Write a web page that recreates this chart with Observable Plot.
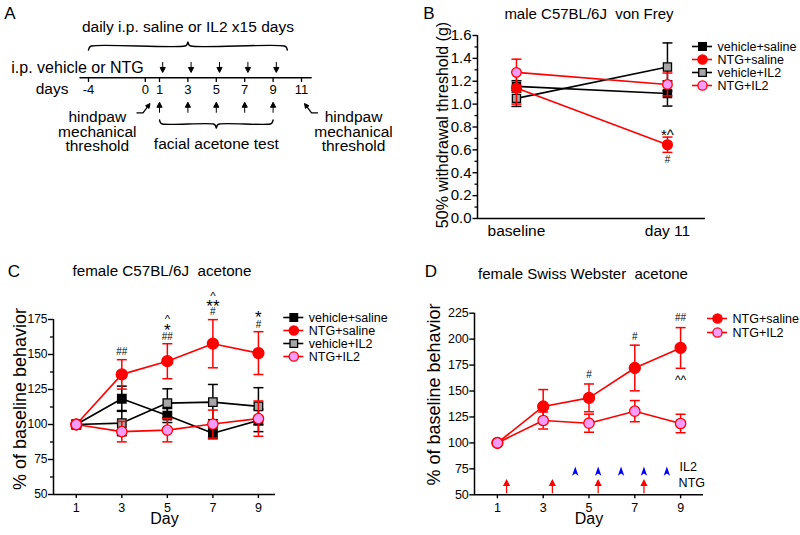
<!DOCTYPE html>
<html>
<head>
<meta charset="utf-8">
<script src="https://cdn.jsdelivr.net/npm/d3@7"></script>
<script src="https://cdn.jsdelivr.net/npm/@observablehq/plot@0.6"></script>
<style>
  html, body { margin: 0; padding: 0; background: #fff; }
  #fig { position: relative; width: 800px; height: 535px; overflow: hidden; background: #fff;
         font-family: "Liberation Sans", Arial, Helvetica, sans-serif; color: #000; }
  #fig svg { position: absolute; }
  .t { position: absolute; white-space: pre; line-height: 1; transform: translate(-50%, -50%); }
</style>
</head>
<body>
<div id="fig"></div>
<script>
// ---------------- DATA ----------------
// Panel A : protocol schematic
const aTitleText = "daily i.p. saline or IL2 x15 days";
const aInjectionLabel = "i.p. vehicle or NTG";
const aDaysLabel = "days";
const aTickDays = [-4, 0, 1, 3, 5, 7, 9, 11];
const aInjectionDays = [1, 3, 5, 7, 9];
const aAcetoneDays = [1, 3, 5, 7, 9];
const aThresholdDays = [0, 11];
const aIL2Span = [-4, 10];
const aAcetoneSpan = [1, 9];
const aAcetoneLabel = "facial acetone test";
const aThresholdLines = ["hindpaw", "mechanical", "threshold"];

// Panel B : male C57BL/6J von Frey
const bTitle = "male C57BL/6J  von Frey";
const bTimepoints = ["baseline", "day 11"];
const bSeries = ["vehicle+saline", "NTG+saline", "vehicle+IL2", "NTG+IL2"];
const bVehSal = [1.155, 1.093], bVehSalErr = [0.05, 0.11];
const bNtgSal = [1.14, 0.645], bNtgSalErr = [0.14, 0.067];
const bVehIl2 = [1.05, 1.325], bVehIl2Err = [0.07, 0.21];
const bNtgIl2 = [1.278, 1.172], bNtgIl2Err = [0.115, 0.1];
const bYTicks = [0, 0.2, 0.4, 0.6, 0.8, 1.0, 1.2, 1.4, 1.6];
const bYMinor = [0.1, 0.3, 0.5, 0.7, 0.9, 1.1, 1.3, 1.5];
const bNoteX = [1, 1], bNoteY = [0.76, 0.51], bNoteText = ["*^", "#"];

// Panel C : female C57BL/6J acetone
const cTitle = "female C57BL/6J  acetone";
const cDays = [1, 3, 5, 7, 9];
const cVehSal = [100, 118.4, 106.4, 93.8, 102.9], cVehSalErr = [0, 9, 5, 4, 8];
const cNtgSal = [100, 135.8, 145.2, 157.7, 151], cNtgSalErr = [0, 10.5, 12.5, 17.2, 15.3];
const cVehIl2 = [100, 101, 115.3, 116, 113], cVehIl2Err = [0, 9, 10.2, 12.6, 13.3];
const cNtgIl2 = [100, 94.9, 96, 100.3, 104.2], cNtgIl2Err = [0, 7.3, 8.4, 10, 12.6];
const cYTicks = [50, 75, 100, 125, 150, 175];
const cYMinor = [62.5, 87.5, 112.5, 137.5, 162.5];
const cNoteX = [3, 5, 5, 5, 7, 7, 7, 9, 9];
const cNoteY = [151.6, 162.9, 170.5, 177, 180.5, 187, 193.4, 171.5, 179.5];
const cNoteText = ["##", "##", "*", "^", "#", "**", "^", "#", "*"];

// Panel D : female Swiss Webster acetone
const dTitle = "female Swiss Webster  acetone";
const dSeries = ["NTG+saline", "NTG+IL2"];
const dDays = [1, 3, 5, 7, 9];
const dNtgSal = [100, 135.1, 143.4, 172.2, 191.5], dNtgSalErr = [0, 16.3, 13.4, 22, 19.6];
const dNtgIl2 = [100, 121.6, 119, 130.6, 118.7], dNtgIl2Err = [0, 8.2, 8.7, 10.2, 8.9];
const dYTicks = [50, 75, 100, 125, 150, 175, 200, 225];
const dIL2Days = [4.4, 5.4, 6.4, 7.4, 8.4];
const dNTGDays = [1.4, 3.4, 5.4, 7.4];
const dNoteX = [5, 7, 9, 9], dNoteY = [166, 202.5, 220.6, 162.7], dNoteText = ["#", "#", "##", "^^"];

const yLabelBehavior = "% of baseline behavior";
const yLabelThreshold = "50% withdrawal threshold (g)";
const xLabelDay = "Day";

// ---------------- STYLE ----------------
const FONT = '"Liberation Sans", Arial, Helvetica, sans-serif';
const RED = "#ff0000", PINK = "#ff9cff", GRAY = "#a6a6a6", BLUE = "#0000ff";
const baseStyle = {background: "transparent", overflow: "visible", fontFamily: FONT, color: "black", fontSize: "12px"};
const styleOf = {
  "vehicle+saline": {stroke: "black", fill: "black", symbol: "square"},
  "NTG+saline": {stroke: RED, fill: RED, symbol: "circle"},
  "vehicle+IL2": {stroke: "black", fill: GRAY, symbol: "square"},
  "NTG+IL2": {stroke: RED, fill: PINK, symbol: "circle"}
};

// custom glyphs
const capSym = {draw(c) { c.moveTo(-5, 0); c.lineTo(5, 0); }};
function vArrow(len, head, halfW, up) {
  const s = up ? 1 : -1;
  return {draw(c) {
    const tip = -s * len / 2, base = tip + s * head;
    c.moveTo(0, s * len / 2); c.lineTo(0, base);
    c.moveTo(0, tip); c.lineTo(-halfW, base); c.lineTo(halfW, base); c.closePath();
  }};
}
const blueHead = {draw(c) { c.moveTo(0, -4.8); c.lineTo(3.2, 4.5); c.lineTo(0, 2.3); c.lineTo(-3.2, 4.5); c.closePath(); }};
function bentStem(m) { return {draw(c) { c.moveTo(-6.5 * m, 4.3); c.lineTo(0, 4.3); c.lineTo(4.3 * m, -1.4); }}; }
function bentHead(m) { return {draw(c) { c.moveTo(7 * m, -5); c.lineTo(6.06 * m, -0.08); c.lineTo(2.54 * m, -2.72); c.closePath(); }}; }

const fig = document.getElementById("fig");
function place(node, left, top) { node.style.left = left + "px"; node.style.top = top + "px"; fig.appendChild(node); }
function label(text, cx, cy, size) {
  const d = document.createElement("div");
  d.className = "t"; d.textContent = text; d.style.fontSize = size + "px";
  d.style.left = cx + "px"; d.style.top = cy + "px"; fig.appendChild(d);
}
const rowsOf = (xs, ys, es) => xs.map((x, i) => ({x, y: ys[i], e: es[i]}));

function seriesMarks(rows, name, rCircle, rSquare) {
  const st = styleOf[name];
  const withErr = rows.filter(d => d.e > 0);
  return [
    Plot.ruleX(withErr, {x: "x", y1: d => d.y - d.e, y2: d => d.y + d.e, stroke: st.stroke, strokeWidth: 1.5}),
    Plot.dot(withErr, {x: "x", y: d => d.y + d.e, symbol: capSym, fill: "none", stroke: st.stroke, strokeWidth: 1.5}),
    Plot.dot(withErr, {x: "x", y: d => d.y - d.e, symbol: capSym, fill: "none", stroke: st.stroke, strokeWidth: 1.5}),
    Plot.line(rows, {x: "x", y: "y", stroke: st.stroke, strokeWidth: 1.6}),
    Plot.dot(rows, {x: "x", y: "y", symbol: st.symbol, r: st.symbol === "square" ? rSquare : rCircle,
                    fill: st.fill, stroke: st.stroke, strokeWidth: 1.3})
  ];
}
function noteMarks(xs, ys, ts) {
  return ts.map((t, i) => {
    const stars = t.includes("*"), carets = t.includes("^");
    const size = stars ? (carets ? 15 : 17) : carets ? (t.length > 1 ? 12 : 11.5) : 10;
    const dy = stars ? 0.25 * size : carets ? 0.21 * size : 0;
    return Plot.text([t], {x: () => xs[i], y: () => ys[i], text: d => d, fontSize: size, dy});
  });
}
function legendPlot(names, {width, height, xRange, yRange, rC, rS}) {
  return Plot.plot({
    width, height, margin: 0, style: baseStyle,
    x: {domain: [0, 1], range: xRange, axis: null},
    y: {type: "point", domain: names, range: yRange, padding: 0, axis: null},
    marks: names.flatMap(n => {
      const st = styleOf[n];
      return [
        Plot.ruleY([n], {y: d => d, x1: () => 0, x2: () => 1, stroke: st.stroke, strokeWidth: 1.6}),
        Plot.dot([n], {x: () => 0.5, y: d => d, symbol: st.symbol, r: st.symbol === "square" ? rS : rC,
                       fill: st.fill, stroke: st.stroke, strokeWidth: 1.3}),
        Plot.text([n], {x: () => 1, y: d => d, text: d => d, dx: 5, textAnchor: "start", fontSize: 12.5})
      ];
    })
  });
}

// ---------------- PANEL A ----------------
const A_PX_PER_DAY = 14.2, A_DAY1_PX = 159;
function bracePoints([x0, x1], y, dir) {
  const k = 1 / A_PX_PER_DAY, xc = (x0 + x1) / 2;
  return [
    [x0, y - 4 * dir], [x0 + 1 * k, y - 1.3 * dir], [x0 + 3 * k, y],
    [xc - 3 * k, y], [xc - 1 * k, y + 1.3 * dir], [xc, y + 4 * dir],
    [xc + 1 * k, y + 1.3 * dir], [xc + 3 * k, y],
    [x1 - 3 * k, y], [x1 - 1 * k, y - 1.3 * dir], [x1, y - 4 * dir]
  ].map(([x, yy]) => ({x, y: yy}));
}
const mid = ([a, b]) => (a + b) / 2;
const aPlot = Plot.plot({
  width: 400, height: 180, margin: 0, style: baseStyle,
  x: {domain: [1 - A_DAY1_PX / A_PX_PER_DAY, 1 + (400 - A_DAY1_PX) / A_PX_PER_DAY], axis: null},
  y: {domain: [180, 0], axis: null},
  marks: [
    Plot.text([aTitleText], {x: () => mid(aIL2Span), y: () => 27, text: d => d, fontSize: 15.5}),
    Plot.line(bracePoints(aIL2Span, 45.5, -1), {x: "x", y: "y", curve: "catmull-rom", stroke: "black", strokeWidth: 1.4}),
    Plot.text([aInjectionLabel], {x: () => aThresholdDays[0], dx: -1.5, y: () => 67, text: d => d, textAnchor: "end", fontSize: 16}),
    Plot.dot(aInjectionDays, {x: d => d, y: () => 66.7, dx: 3.2, symbol: vArrow(10.5, 5, 2.6, false), fill: "black", stroke: "black", strokeWidth: 1}),
    Plot.ruleY([77.3], {x1: () => aTickDays[0] - 0.6, x2: () => aTickDays[aTickDays.length - 1] + 0.75, stroke: "black", strokeWidth: 1.4}),
    Plot.ruleX(aTickDays, {x: d => d, y1: () => 77.3, y2: () => 82, stroke: "black", strokeWidth: 1.3}),
    Plot.text(aTickDays, {x: d => d, y: () => 89.3, text: d => String(d), fontSize: 13}),
    Plot.text([aDaysLabel], {x: () => aTickDays[0], dx: -20, y: () => 89, text: d => d, textAnchor: "end", fontSize: 15.5}),
    Plot.dot(aAcetoneDays, {x: d => d, y: () => 107, symbol: vArrow(10.5, 5, 2.6, true), fill: "black", stroke: "black", strokeWidth: 1}),
    Plot.line(bracePoints(aAcetoneSpan, 123.5, 1), {x: "x", y: "y", curve: "catmull-rom", stroke: "black", strokeWidth: 1.4}),
    Plot.text([aAcetoneLabel], {x: () => mid(aAcetoneSpan), y: () => 144, text: d => d, fontSize: 15.5}),
    Plot.text(aThresholdLines, {x: () => aThresholdDays[0], dx: -48, y: (d, i) => 117 + i * 14.5, text: d => d, fontSize: 15.5}),
    Plot.text(aThresholdLines, {x: () => aThresholdDays[1], dx: 52, y: (d, i) => 117 + i * 14.5, text: d => d, fontSize: 15.5}),
    Plot.dot([aThresholdDays[0]], {x: d => d, y: () => 108, dx: -2.3, symbol: bentStem(1), fill: "none", stroke: "black", strokeWidth: 1.3}),
    Plot.dot([aThresholdDays[0]], {x: d => d, y: () => 108, dx: -2.3, symbol: bentHead(1), fill: "black", stroke: "black", strokeWidth: 1}),
    Plot.dot([aThresholdDays[1]], {x: d => d, y: () => 108, dx: 10, symbol: bentStem(-1), fill: "none", stroke: "black", strokeWidth: 1.3}),
    Plot.dot([aThresholdDays[1]], {x: d => d, y: () => 108, dx: 10, symbol: bentHead(-1), fill: "black", stroke: "black", strokeWidth: 1})
  ]
});
place(aPlot, 0, 0);

// ---------------- PANEL B ----------------
const bX = bTimepoints.map((_, i) => i);
const bXDomain = [-0.258, 1.252];
const bPlot = Plot.plot({
  width: 310, height: 250, marginLeft: 77, marginRight: 5, marginTop: 35, marginBottom: 32, style: baseStyle,
  x: {domain: bXDomain}, y: {domain: [0, 1.6]},
  marks: [
    Plot.axisY({ticks: bYTicks, tickFormat: d3.format(".1f"), tickSize: 4.5, tickPadding: 1.5, fontSize: 15, label: null, strokeWidth: 1.4}),
    Plot.axisY({ticks: bYMinor, tickSize: 2.5, fill: "none", label: null, strokeWidth: 1.3}),
    Plot.axisX({ticks: bX, tickFormat: i => bTimepoints[i], tickSize: 0, tickPadding: 6.5, fontSize: 15.5, label: null}),
    Plot.ruleX([bXDomain[0]], {stroke: "black", strokeWidth: 1.5}),
    Plot.ruleY([0], {stroke: "black", strokeWidth: 1.5}),
    Plot.text([yLabelThreshold], {frameAnchor: "left", textAnchor: "middle", dx: -35, dy: -2, rotate: -90, text: d => d, fontSize: 16}),
    ...seriesMarks(rowsOf(bX, bVehSal, bVehSalErr), "vehicle+saline", 4.8, 4.6),
    ...seriesMarks(rowsOf(bX, bVehIl2, bVehIl2Err), "vehicle+IL2", 4.8, 4.6),
    ...seriesMarks(rowsOf(bX, bNtgSal, bNtgSalErr), "NTG+saline", 4.9, 4.6),
    ...seriesMarks(rowsOf(bX, bNtgIl2, bNtgIl2Err), "NTG+IL2", 4.8, 4.6),
    ...noteMarks(bNoteX, bNoteY, bNoteText)
  ]
});
place(bPlot, 400, 0);
place(legendPlot(bSeries, {width: 120, height: 60, xRange: [12, 32], yRange: [10, 49], rC: 4.6, rS: 4.3}), 680, 36);

// ---------------- PANEL C ----------------
const cXDomain = [0, 9.75];
const cPlot = Plot.plot({
  width: 285, height: 245, marginLeft: 53, marginRight: 10, marginTop: 29, marginBottom: 41, style: baseStyle,
  x: {domain: cXDomain}, y: {domain: [50, 175]},
  marks: [
    Plot.axisY({ticks: cYTicks, tickSize: 5, tickPadding: 1, fontSize: 12, label: null, strokeWidth: 1.4}),
    Plot.axisY({ticks: cYMinor, tickSize: 3, fill: "none", label: null, strokeWidth: 1.3}),
    Plot.axisX({ticks: cDays, tickSize: 4, tickPadding: 5, fontSize: 12.5, label: null, strokeWidth: 1.4}),
    Plot.ruleX([cXDomain[0]], {stroke: "black", strokeWidth: 1.5}),
    Plot.ruleY([50], {stroke: "black", strokeWidth: 1.5}),
    Plot.text([yLabelBehavior], {frameAnchor: "left", textAnchor: "middle", dx: -33, dy: -8, rotate: -90, text: d => d, fontSize: 18}),
    Plot.text([xLabelDay], {frameAnchor: "bottom", dy: 29.5, text: d => d, fontSize: 16}),
    ...seriesMarks(rowsOf(cDays, cVehSal, cVehSalErr), "vehicle+saline", 5.3, 4.8),
    ...seriesMarks(rowsOf(cDays, cVehIl2, cVehIl2Err), "vehicle+IL2", 5.3, 4.8),
    ...seriesMarks(rowsOf(cDays, cNtgSal, cNtgSalErr), "NTG+saline", 5.5, 4.8),
    ...seriesMarks(rowsOf(cDays, cNtgIl2, cNtgIl2Err), "NTG+IL2", 5.2, 4.8),
    ...noteMarks(cNoteX, cNoteY, cNoteText)
  ]
});
place(cPlot, 0, 290);
place(legendPlot(bSeries, {width: 130, height: 60, xRange: [13.3, 33.3], yRange: [11.7, 51.7], rC: 4.6, rS: 4.3}), 270, 305);

// ---------------- PANEL D ----------------
const dXDomain = [0, 10];
const dPlot = Plot.plot({
  width: 310, height: 245, marginLeft: 74, marginRight: 7, marginTop: 22.7, marginBottom: 40.7, style: baseStyle,
  x: {domain: dXDomain}, y: {domain: [50, 225]},
  marks: [
    Plot.axisY({ticks: dYTicks, tickSize: 4.7, tickPadding: 1, fontSize: 12.5, label: null, strokeWidth: 1.4}),
    Plot.axisX({ticks: dDays, tickSize: 4, tickPadding: 4, fontSize: 12.5, label: null, strokeWidth: 1.4}),
    Plot.ruleX([dXDomain[0]], {stroke: "black", strokeWidth: 1.5}),
    Plot.ruleY([50], {stroke: "black", strokeWidth: 1.5}),
    Plot.text([yLabelBehavior], {frameAnchor: "left", textAnchor: "middle", dx: -40.7, dy: -9.5, rotate: -90, text: d => d, fontSize: 18}),
    Plot.text([xLabelDay], {frameAnchor: "bottom", dy: 29.5, text: d => d, fontSize: 16}),
    ...seriesMarks(rowsOf(dDays, dNtgSal, dNtgSalErr), "NTG+saline", 5.5, 4.8),
    ...seriesMarks(rowsOf(dDays, dNtgIl2, dNtgIl2Err), "NTG+IL2", 5.2, 4.8),
    Plot.dot(dIL2Days, {x: d => d, frameAnchor: "bottom", dy: -23.6, symbol: blueHead, fill: BLUE, stroke: "none"}),
    Plot.dot(dNTGDays, {x: d => d, frameAnchor: "bottom", dy: -8, symbol: vArrow(13, 5, 2.6, true), fill: RED, stroke: RED, strokeWidth: 1.2}),
    Plot.text(["IL2"], {x: () => dDays[dDays.length - 1], dx: -1, frameAnchor: "bottom", dy: -23.6, text: d => d, textAnchor: "start", fontSize: 12.5}),
    Plot.text(["NTG"], {x: () => dDays[dDays.length - 1], dx: -2, frameAnchor: "bottom", dy: -8.3, text: d => d, textAnchor: "start", fontSize: 12.5}),
    ...noteMarks(dNoteX, dNoteY, dNoteText)
  ]
});
place(dPlot, 400, 290);
place(legendPlot(dSeries, {width: 105, height: 40, xRange: [12, 32], yRange: [13, 27], rC: 4.6, rS: 4.3}), 695, 305);

// ---------------- PANEL LETTERS & TITLES ----------------
label("A", 10, 13, 17);
label("B", 429, 13, 17);
label("C", 14, 271, 17);
label("D", 431, 271, 17);
label(bTitle, 589, 13, 15);
label(cTitle, 162, 271, 15.2);
label(dTitle, 583, 273, 15);
</script>
</body>
</html>
